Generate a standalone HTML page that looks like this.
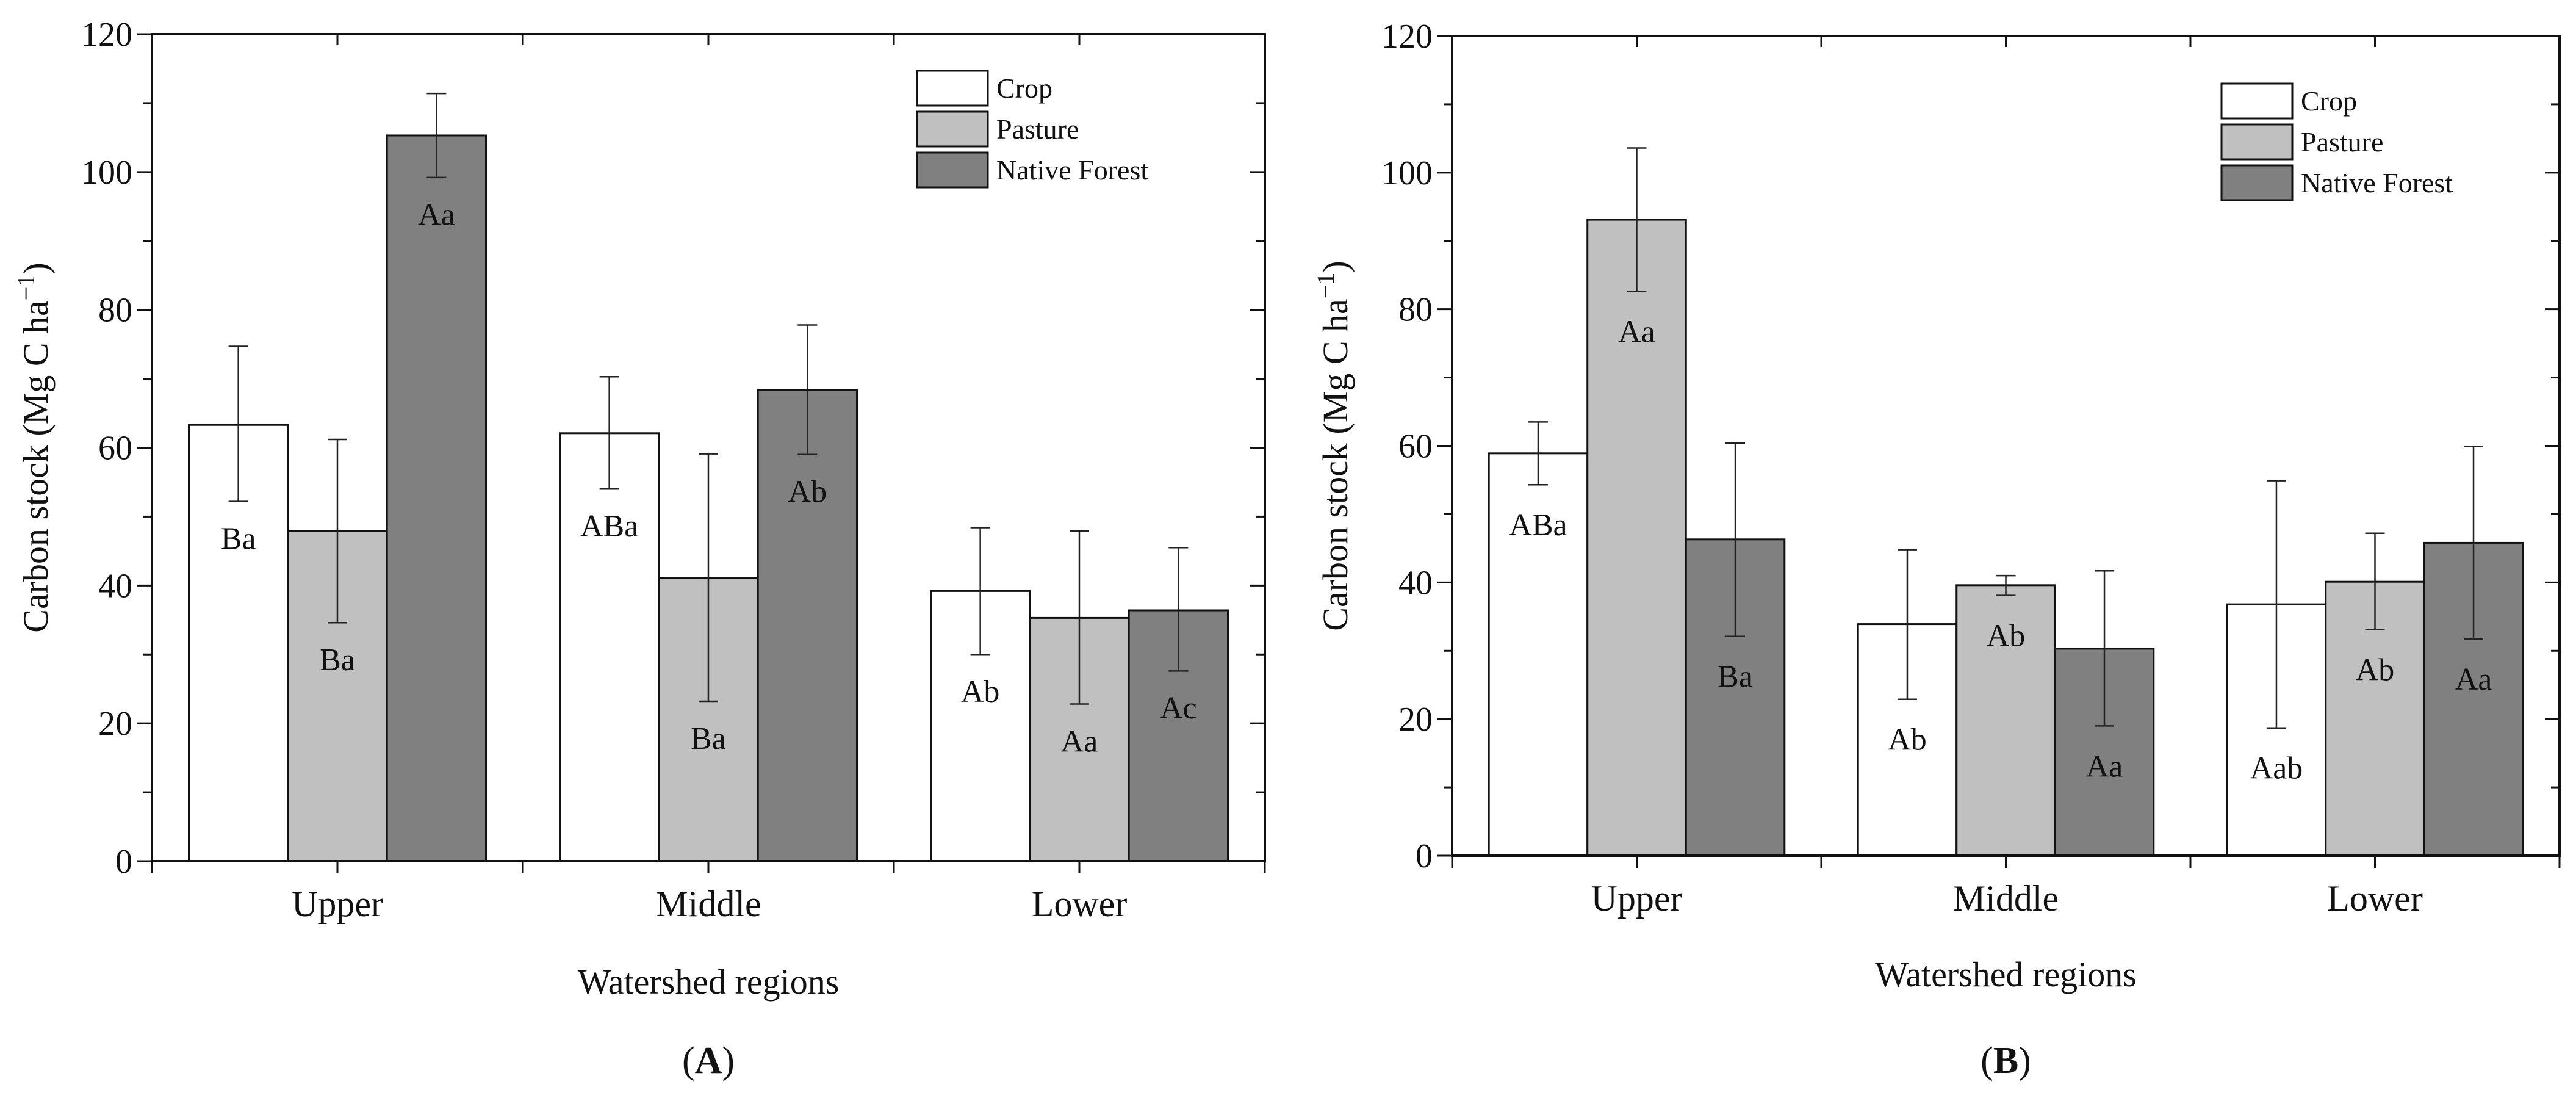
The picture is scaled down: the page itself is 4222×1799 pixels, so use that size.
<!DOCTYPE html>
<html><head><meta charset="utf-8"><style>
html,body{margin:0;padding:0;background:#fff}
svg{display:block}
text{font-family:"Liberation Serif",serif;fill:#111}
</style></head><body>
<svg id="fig" width="4222" height="1799" viewBox="0 0 4222 1799" xmlns="http://www.w3.org/2000/svg">
<g id="pA"></g>
<g id="pB"></g>
</svg>
<script>
const categories = ["Upper", "Middle", "Lower"];
const seriesNames = ["Crop", "Pasture", "Native Forest"];
const yTicks = [0, 20, 40, 60, 80, 100, 120];
// Panel A
const cropA = [63.3, 62.1, 39.2];
const cropALo = [52.2, 54.0, 30.0];
const cropAHi = [74.7, 70.3, 48.4];
const pastureA = [47.9, 41.1, 35.3];
const pastureALo = [34.6, 23.2, 22.8];
const pastureAHi = [61.2, 59.1, 47.9];
const forestA = [105.3, 68.4, 36.4];
const forestALo = [99.2, 59.0, 27.6];
const forestAHi = [111.4, 77.8, 45.5];
const cropALabels = ["Ba", "ABa", "Ab"];
const pastureALabels = ["Ba", "Ba", "Aa"];
const forestALabels = ["Aa", "Ab", "Ac"];
// Panel B
const cropB = [58.9, 33.9, 36.8];
const cropBLo = [54.3, 22.9, 18.7];
const cropBHi = [63.5, 44.8, 54.9];
const pastureB = [93.1, 39.6, 40.1];
const pastureBLo = [82.6, 38.1, 33.1];
const pastureBHi = [103.6, 41.0, 47.2];
const forestB = [46.3, 30.3, 45.8];
const forestBLo = [32.1, 19.0, 31.7];
const forestBHi = [60.4, 41.7, 59.9];
const cropBLabels = ["ABa", "Ab", "Aab"];
const pastureBLabels = ["Aa", "Ab", "Ab"];
const forestBLabels = ["Ba", "Aa", "Aa"];

const NS = "http://www.w3.org/2000/svg";
const fills = ["#ffffff", "#c0c0c0", "#808080"];
function mk(tag, attrs, parent, txt) {
  const e = document.createElementNS(NS, tag);
  for (const k in attrs) e.setAttribute(k, attrs[k]);
  if (txt !== undefined) e.textContent = txt;
  parent.appendChild(e);
  return e;
}
function panel(g, cfg, vals, los, his, labs, letter) {
  const {L, R, T, B} = cfg;
  const y = v => B - (v / 120) * (B - T);
  const step = (R - L) / 3;
  const xc = i => L + step * (i + 0.5);
  const bw = step * 0.267;
  for (let s = 0; s < 3; s++) {
    for (let i = 0; i < 3; i++) {
      const x0 = xc(i) - 1.5 * bw + s * bw;
      const r = mk("rect", {x: x0, y: y(vals[s][i]), width: bw, height: B - y(vals[s][i]), fill: fills[s], stroke: "#111", "stroke-width": 3}, g);
      
      
      const cx = x0 + bw / 2;
      const eb = mk("path", {d: `M${cx},${y(los[s][i])}V${y(his[s][i])}M${cx-16},${y(los[s][i])}H${cx+16}M${cx-16},${y(his[s][i])}H${cx+16}`, stroke: "#222", "stroke-width": 2.5, fill: "none"}, g);
      
      
      const t = mk("text", {x: cx, y: y(los[s][i] - cfg.lo) + 18, "font-size": 52, "text-anchor": "middle"}, g, labs[s][i]);
      
      
    }
  }
  const fr = mk("rect", {x: L, y: T, width: R - L, height: B - T, fill: "none", stroke: "#111", "stroke-width": 4}, g);
  
  
  for (let v = 0; v <= 120; v += 10) {
    const len = v % 20 === 0 ? 24 : 14;
    mk("line", {x1: L - len, x2: L, y1: y(v), y2: y(v), stroke: "#111", "stroke-width": 3}, g);
    mk("line", {x1: R, x2: R - len, y1: y(v), y2: y(v), stroke: "#111", "stroke-width": 3}, g);
  }
  yTicks.forEach(v => {
    const t = mk("text", {x: L - 32, y: y(v) + 19, "font-size": 56, "text-anchor": "end"}, g, v);
    
    
  });
  for (let k = 0; k <= 6; k++) {
    const x = L + k * step / 2;
    mk("line", {x1: x, x2: x, y1: B, y2: B + 20, stroke: "#111", "stroke-width": 3}, g);
    mk("line", {x1: x, x2: x, y1: T, y2: T + 18, stroke: "#111", "stroke-width": 3}, g);
  }
  categories.forEach((c, i) => {
    const t = mk("text", {x: xc(i), y: B + 90, "font-size": 60, "text-anchor": "middle"}, g, c);
    
    
  });
  const xt = mk("text", {x: (L + R) / 2, y: cfg.xTitleY, "font-size": 58, "text-anchor": "middle"}, g, "Watershed regions");
  
  
  const yt = mk("text", {x: 0, y: 0, "font-size": 58, "text-anchor": "middle", transform: `translate(${cfg.yTitleX},${(T + B) / 2}) rotate(-90)`}, g);
  yt.innerHTML = 'Carbon stock (Mg C ha<tspan dy="-22" font-size="40">−1</tspan><tspan dy="22">)</tspan>';
  
  
  for (let s = 0; s < 3; s++) {
    const by = cfg.legY + s * 67;
    const lb = mk("rect", {x: cfg.legX, y: by, width: 116, height: 57, fill: fills[s], stroke: "#111", "stroke-width": 3}, g);
    
    
    const lt = mk("text", {x: cfg.legX + 130, y: by + 44, "font-size": 46}, g, seriesNames[s]);
    
    
  }
  const pl = mk("text", {x: (L + R) / 2, y: 1758, "font-size": 62, "text-anchor": "middle"}, g);
  pl.innerHTML = '(<tspan font-weight="bold">' + letter + '</tspan>)';
  
  
}
panel(document.getElementById("pA"),
  {L: 249, R: 2073, T: 56, B: 1411, lo: 5.3, xTitleY: 1628, yTitleX: 78, legX: 1503, legY: 116},
  [cropA, pastureA, forestA], [cropALo, pastureALo, forestALo], [cropAHi, pastureAHi, forestAHi],
  [cropALabels, pastureALabels, forestALabels], "A");
panel(document.getElementById("pB"),
  {L: 2380, R: 4195, T: 59, B: 1402, lo: 5.8, xTitleY: 1616, yTitleX: 2208, legX: 3641, legY: 137},
  [cropB, pastureB, forestB], [cropBLo, pastureBLo, forestBLo], [cropBHi, pastureBHi, forestBHi],
  [cropBLabels, pastureBLabels, forestBLabels], "B");
</script>
</body></html>
